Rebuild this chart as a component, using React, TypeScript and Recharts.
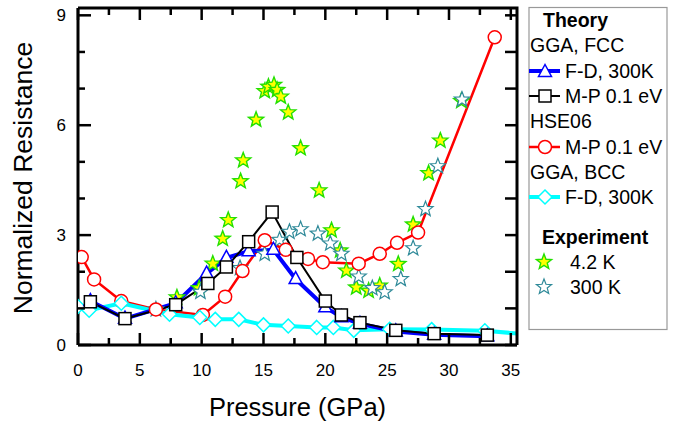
import { ComposedChart, Line, Scatter, XAxis, YAxis } from 'recharts';

const FONT = '"Liberation Sans", Arial, sans-serif';

const W = 691;
const H = 426;
const M = { top: 8, right: 174, bottom: 0, left: 0 };
const X_AXIS_H = 81;
const Y_AXIS_W = 78;
const PLOT_TOP = M.top;
const PLOT_RIGHT = W - M.right;
const PLOT_BOTTOM = H - M.bottom - X_AXIS_H;

const xTicks = [0, 2.5, 5, 7.5, 10, 12.5, 15, 17.5, 20, 22.5, 25, 27.5, 30, 32.5, 35];
const yTicks = [0, 1, 2, 3, 4, 5, 6, 7, 8, 9];

// GGA, FCC - Fermi-Dirac 300K
const fccFdP = [1.0, 3.8, 7.9, 10.4, 12.0, 13.8, 15.8, 17.6, 20.0, 21.3, 22.8, 25.7, 28.8, 33.1];
const fccFdR = [1.2, 0.72, 1.14, 1.95, 2.38, 2.56, 2.6, 1.8, 1.03, 0.76, 0.58, 0.37, 0.28, 0.24];

// GGA, FCC - Methfessel-Paxton 0.1 eV
const fccMpP = [1.0, 3.8, 7.9, 10.5, 12.0, 13.8, 15.7, 17.7, 20.0, 21.3, 22.8, 25.7, 28.8, 33.1];
const fccMpR = [1.18, 0.72, 1.1, 1.68, 2.13, 2.82, 3.63, 2.39, 1.2, 0.82, 0.61, 0.4, 0.31, 0.27];

// HSE06 - Methfessel-Paxton 0.1 eV
const hseP = [0.3, 1.3, 3.5, 6.3, 10.1, 11.9, 13.3, 15.1, 16.8, 18.6, 19.8, 22.7, 24.4, 25.8, 27.5, 33.7];
const hseR = [2.4, 1.79, 1.2, 0.97, 0.82, 1.32, 2.02, 2.86, 2.6, 2.35, 2.26, 2.22, 2.49, 2.79, 3.07, 8.4];

// GGA, BCC - Fermi-Dirac 300K
const bccP = [0, 0.9, 3.5, 7.4, 9.85, 11.1, 13.0, 15.0, 17.0, 19.3, 20.65, 22.3, 25.2, 28.6, 32.9, 36];
const bccR = [1.05, 0.95, 1.14, 0.84, 0.75, 0.7, 0.7, 0.55, 0.52, 0.48, 0.48, 0.4, 0.43, 0.42, 0.39, 0.3];

// experiment, 4.2 K
const exp4P = [8.0, 9.8, 10.9, 11.7, 12.15, 13.15, 13.36, 14.4, 15.1, 15.4, 15.85, 16.1, 16.4, 17.0, 18.0, 19.5, 20.5, 21.2, 21.7, 22.5, 23.5, 24.4, 25.9, 27.1, 28.35, 29.3, 31.0];
const exp4R = [1.3, 1.55, 2.22, 2.9, 3.41, 4.47, 5.04, 6.15, 6.93, 7.05, 7.1, 6.96, 6.78, 6.35, 5.37, 4.22, 3.13, 2.58, 2.03, 1.57, 1.48, 1.62, 2.21, 3.29, 4.69, 5.58, 6.66];

// experiment, 300 K
const exp300P = [6.3, 9.9, 13.1, 15.1, 16.3, 17.1, 18.0, 19.4, 20.4, 21.3, 22.7, 23.8, 24.8, 26.1, 27.1, 28.1, 29.1, 31.05];
const exp300R = [0.97, 1.45, 2.1, 2.49, 2.87, 3.09, 3.16, 3.04, 2.77, 2.49, 1.87, 1.55, 1.44, 1.8, 2.64, 3.71, 4.88, 6.7];

const zip = (p: number[], r: number[]) => p.map((x, i) => ({ x, y: r[i] }));

const BLUE = '#0000ff';
const RED = '#ff0000';
const CYAN = '#00ffff';
const TEAL = '#2f8a99';
const GREEN = '#22e000';

// markers
const Tri = ({ cx, cy }: any) => (
  <polygon points={`${cx},${cy - 7.5} ${cx - 6.5},${cy + 4.5} ${cx + 6.5},${cy + 4.5}`} fill="#fff" stroke={BLUE} strokeWidth={1.5} />
);
const Sq = ({ cx, cy }: any) => (
  <rect x={cx - 6} y={cy - 6} width={12} height={12} fill="#fff" stroke="#000" strokeWidth={1.5} />
);
const Circ = ({ cx, cy }: any) => <circle cx={cx} cy={cy} r={6.5} fill="#fff" stroke={RED} strokeWidth={1.5} />;
const Dia = ({ cx, cy }: any) => (
  <polygon points={`${cx},${cy - 7} ${cx + 7},${cy} ${cx},${cy + 7} ${cx - 7},${cy}`} fill="#fff" stroke={CYAN} strokeWidth={1.5} />
);
const starPts = (cx: number, cy: number, ro = 8, ri = 3.4) => {
  const pts: string[] = [];
  for (let i = 0; i < 10; i++) {
    const r = i % 2 === 0 ? ro : ri;
    const a = -Math.PI / 2 + (i * Math.PI) / 5;
    pts.push(`${cx + r * Math.cos(a)},${cy + r * Math.sin(a)}`);
  }
  return pts.join(' ');
};
const Star = ({ cx, cy, fill, stroke, sw = 1.4 }: any) => (
  <polygon points={starPts(cx, cy)} fill={fill} stroke={stroke} strokeWidth={sw} />
);

// inward ticks; each axis tick also draws its partner on the opposite edge of the frame
const BottomTick = ({ x, y, payload }: any) => {
  const major = payload.value % 5 === 0;
  const len = major ? 12 : 7;
  return (
    <g>
      <line x1={x} x2={x} y1={y} y2={y - len} stroke="#000" strokeWidth={2.5} />
      <line x1={x} x2={x} y1={PLOT_TOP} y2={PLOT_TOP + len} stroke="#000" strokeWidth={2.5} />
      {major && (
        <text x={x} y={y + 30.5} textAnchor="middle" fontSize={17} fontFamily={FONT} fill="#000">
          {payload.value}
        </text>
      )}
    </g>
  );
};
const LeftTick = ({ x, y, payload }: any) => {
  const major = payload.value % 3 === 0;
  return (
    <g>
      <line x1={x} x2={x + (major ? 13 : 7)} y1={y} y2={y} stroke="#000" strokeWidth={2.5} />
      <line x1={PLOT_RIGHT} x2={PLOT_RIGHT - 12} y1={y} y2={y} stroke="#000" strokeWidth={2.5} />
      {major && (
        <text x={x - 12} y={y + 6} textAnchor="end" fontSize={17} fontFamily={FONT} fill="#000">
          {payload.value}
        </text>
      )}
    </g>
  );
};

const LegendBox = () => {
  const t = { fontFamily: FONT, fontSize: 19.5, fill: '#000' } as const;
  return (
    <svg width={W} height={H} style={{ position: 'absolute', left: 0, top: 0, pointerEvents: 'none' }}>
      {/* top and right edges of the frame */}
      <polyline
        points={`${Y_AXIS_W},${PLOT_TOP} ${PLOT_RIGHT},${PLOT_TOP} ${PLOT_RIGHT},${PLOT_BOTTOM}`}
        fill="none"
        stroke="#000"
        strokeWidth={3}
      />
      <rect x={529} y={7.5} width={138} height={322} fill="#fff" stroke="#999" strokeWidth={1.2} />
      <text x={543} y={27} {...t} fontWeight="bold">Theory</text>
      <text x={530} y={52} {...t}>GGA, FCC</text>
      <line x1={529} x2={560} y1={71} y2={71} stroke={BLUE} strokeWidth={4} />
      <Tri cx={545} cy={72} />
      <text x={565} y={78} {...t}>F-D, 300K</text>
      <line x1={529} x2={560} y1={96} y2={96} stroke="#000" strokeWidth={2} />
      <Sq cx={545} cy={96} />
      <text x={565} y={103} {...t}>M-P 0.1 eV</text>
      <text x={530} y={128} {...t}>HSE06</text>
      <line x1={529} x2={560} y1={147} y2={147} stroke={RED} strokeWidth={2.5} />
      <Circ cx={545} cy={147} />
      <text x={565} y={154} {...t}>M-P 0.1 eV</text>
      <text x={530} y={179} {...t}>GGA, BCC</text>
      <line x1={529} x2={560} y1={197} y2={197} stroke={CYAN} strokeWidth={4} />
      <Dia cx={545} cy={197} />
      <text x={565} y={204} {...t}>F-D, 300K</text>
      <text x={542} y={244} {...t} fontWeight="bold">Experiment</text>
      <Star cx={544} cy={262} fill="#ffff00" stroke={GREEN} />
      <text x={570} y={269} {...t}>4.2 K</text>
      <Star cx={544} cy={287} fill="#fff" stroke={TEAL} sw={1.2} />
      <text x={570} y={294} {...t}>300 K</text>
    </svg>
  );
};

export default function App() {
  return (
    <div style={{ position: 'absolute', left: 0, top: 0, width: W, height: H, background: '#fff' }}>
      <ComposedChart width={W} height={H} margin={M}>
        <XAxis
          dataKey="x"
          type="number"
          domain={[0, 35.5]}
          allowDataOverflow
          ticks={xTicks}
          interval={0}
          height={X_AXIS_H}
          tickSize={0}
          tickMargin={0}
          axisLine={{ stroke: '#000', strokeWidth: 3 }}
          tick={(p: any) => <BottomTick {...p} />}
          label={{ value: 'Pressure (GPa)', position: 'insideBottom', offset: 10, fontSize: 25.5, fontFamily: FONT, fill: '#000' }}
        />
        <YAxis
          dataKey="y"
          type="number"
          domain={[0, 9.2]}
          allowDataOverflow
          ticks={yTicks}
          interval={0}
          width={Y_AXIS_W}
          tickSize={0}
          tickMargin={0}
          axisLine={{ stroke: '#000', strokeWidth: 3 }}
          tick={(p: any) => <LeftTick {...p} />}
          label={{
            content: () => (
              <text x={32} y={178} transform="rotate(-90 32 178)" textAnchor="middle" fontSize={26.5} fontFamily={FONT} fill="#000">
                Normalized Resistance
              </text>
            ),
          }}
        />
        <Scatter
          data={zip(exp4P, exp4R)}
          dataKey="y"
          isAnimationActive={false}
          shape={(p: any) => <Star cx={p.cx} cy={p.cy} fill="#ffff00" stroke={GREEN} />}
        />
        <Scatter
          data={zip(exp300P, exp300R)}
          dataKey="y"
          isAnimationActive={false}
          shape={(p: any) => <Star cx={p.cx} cy={p.cy} fill="#fff" stroke={TEAL} sw={1.2} />}
        />
        <Line
          data={zip(hseP, hseR)}
          dataKey="y"
          type="linear"
          stroke={RED}
          strokeWidth={2.5}
          isAnimationActive={false}
          dot={(p: any) => <Circ key={p.index} cx={p.cx} cy={p.cy} />}
        />
        <Line
          data={zip(bccP, bccR)}
          dataKey="y"
          type="linear"
          stroke={CYAN}
          strokeWidth={4}
          isAnimationActive={false}
          dot={(p: any) => <Dia key={p.index} cx={p.cx} cy={p.cy} />}
        />
        <Line
          data={zip(fccFdP, fccFdR)}
          dataKey="y"
          type="linear"
          stroke={BLUE}
          strokeWidth={4}
          isAnimationActive={false}
          dot={(p: any) => <Tri key={p.index} cx={p.cx} cy={p.cy} />}
        />
        <Line
          data={zip(fccMpP, fccMpR)}
          dataKey="y"
          type="linear"
          stroke="#000"
          strokeWidth={2}
          isAnimationActive={false}
          dot={(p: any) => <Sq key={p.index} cx={p.cx} cy={p.cy} />}
        />
      </ComposedChart>
      <LegendBox />
    </div>
  );
}
